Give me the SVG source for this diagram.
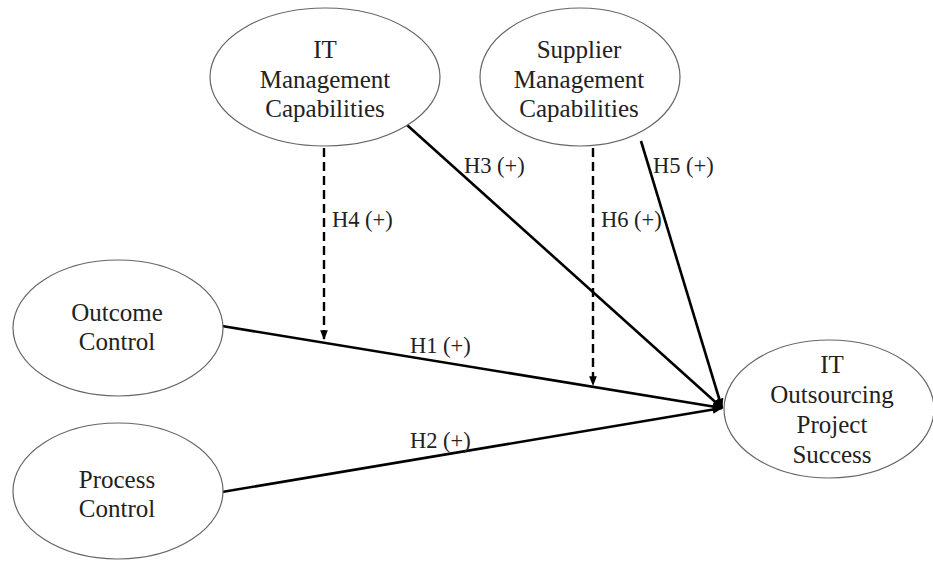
<svg xmlns="http://www.w3.org/2000/svg" width="933" height="563" viewBox="0 0 933 563">
<defs>
<marker id="ah" viewBox="0 0 10 10" refX="9" refY="5" markerWidth="4" markerHeight="4" orient="auto" markerUnits="strokeWidth">
<path d="M0,1 L10,5 L0,9 z" fill="#000"/>
</marker>
</defs>
<style>
.node ellipse{fill:#fff;stroke:#666;stroke-width:1.2}
.node text{font-family:'Liberation Serif','Tinos','Times New Roman','DejaVu Serif',serif;font-size:25px;fill:#222;text-anchor:middle}
.edge{stroke:#000;stroke-width:2.6;fill:none;marker-end:url(#ah)}
.dash{stroke:#000;stroke-width:2.4;fill:none;stroke-dasharray:9,5;marker-end:url(#ah)}
.lbl{font-family:'Liberation Serif','Tinos','Times New Roman','DejaVu Serif',serif;font-size:22.5px;fill:#222}
</style>
<rect width="933" height="563" fill="#fff"/>
<g id="connectors">
<line class="edge" x1="222" y1="326" x2="722" y2="408"/>
<line class="edge" x1="222" y1="492" x2="722" y2="408"/>
<line class="edge" x1="407" y1="125" x2="722" y2="408"/>
<line class="edge" x1="641" y1="141" x2="722" y2="408"/>
<line class="dash" x1="324" y1="148" x2="324" y2="339"/>
<line class="dash" x1="593" y1="148" x2="593" y2="385"/>
<text class="lbl" x="410" y="353">H1 (+)</text>
<text class="lbl" x="410" y="448">H2 (+)</text>
<text class="lbl" x="464" y="173">H3 (+)</text>
<text class="lbl" x="332" y="227">H4 (+)</text>
<text class="lbl" x="653" y="173">H5 (+)</text>
<text class="lbl" x="601" y="227">H6 (+)</text>
</g>
<g id="it-management" class="node">
<ellipse cx="325" cy="77" rx="115" ry="69"/>
<text x="325" y="58">IT</text>
<text x="325" y="88">Management</text>
<text x="325" y="117">Capabilities</text>
</g>
<g id="supplier-management" class="node">
<ellipse cx="580" cy="77" rx="100" ry="69"/>
<text x="579" y="58">Supplier</text>
<text x="579" y="88">Management</text>
<text x="579" y="117">Capabilities</text>
</g>
<g id="outcome-control" class="node">
<ellipse cx="118" cy="328" rx="105" ry="68"/>
<text x="117" y="321">Outcome</text>
<text x="117" y="350">Control</text>
</g>
<g id="process-control" class="node">
<ellipse cx="118" cy="491" rx="105" ry="68"/>
<text x="117" y="488">Process</text>
<text x="117" y="517">Control</text>
</g>
<g id="it-outsourcing" class="node">
<ellipse cx="829" cy="409" rx="105" ry="69"/>
<text x="832" y="373">IT</text>
<text x="832" y="403">Outsourcing</text>
<text x="832" y="433">Project</text>
<text x="832" y="463">Success</text>
</g>
</svg>
